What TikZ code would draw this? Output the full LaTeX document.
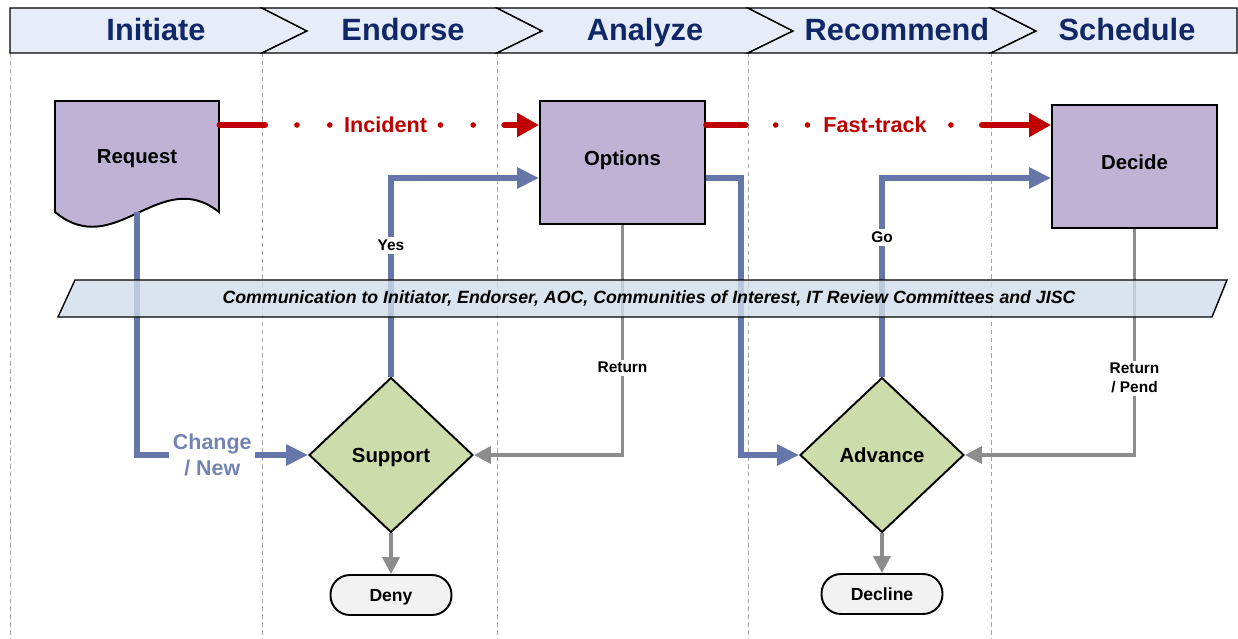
\documentclass[tikz,border=0pt]{standalone}
\usepackage{fontspec}
\setmainfont{Liberation Sans}
\usepackage{tikz}
\usetikzlibrary{arrows.meta, positioning, shapes.geometric}
\usepackage{xcolor}

\definecolor{navy}{RGB}{16,40,104}
\definecolor{lavender}{RGB}{192,178,212}
\definecolor{sage}{RGB}{204,220,170}
\definecolor{paleblue}{RGB}{230,237,248}
\definecolor{bandblue}{RGB}{208,221,234}
\definecolor{flowblue}{RGB}{101,118,170}
\definecolor{flowred}{RGB}{192,0,0}
\definecolor{flowgray}{RGB}{140,140,140}

\begin{document}
\begin{tikzpicture}[x=0.02cm, y=-0.02cm,
        stage/.style={font=\bfseries\fontsize{17.5}{20}\selectfont, text=navy, anchor=base},
        process/.style={draw, line width=1.1pt, fill=lavender, minimum width=3.3cm, minimum height=2.46cm, text height=8.3pt, text depth=5.1pt, font=\bfseries\fontsize{11.6}{14}\selectfont},
        decision/.style={diamond, draw, line width=1.1pt, fill=sage, minimum width=3.28cm, minimum height=3.1cm, inner sep=0pt, text height=8.3pt, text depth=0pt, font=\bfseries\fontsize{11.6}{14}\selectfont},
        terminal/.style={draw, line width=1.1pt, fill=black!5, rounded corners=0.39cm, minimum width=2.42cm, minimum height=0.8cm, text height=7.2pt, text depth=0pt, font=\bfseries\fontsize{10}{12}\selectfont},
        blueflow/.style={flowblue, line width=2.9pt, -{Triangle[length=12.5pt, width=11.5pt]}},
        grayflow/.style={flowgray, line width=2.2pt, -{Triangle[length=9.6pt, width=9.6pt]}},
        redflow/.style={flowred, line width=3.2pt, line cap=round, -{Triangle[length=12.5pt, width=13pt]}},
        tag/.style={fill=white, inner sep=1.5pt, text=black, font=\bfseries\fontsize{8.8}{10.8}\selectfont, align=center},
        bluetag/.style={fill=white, inner sep=2pt, text=flowblue!90, font=\bfseries\fontsize{12.2}{14.5}\selectfont, align=center},
        redtag/.style={text=flowred, inner sep=1pt, font=\bfseries\fontsize{12.3}{14}\selectfont},
        divider/.style={black!35, line width=0.4pt, dash pattern=on 2.5pt off 2pt}
    ]
        \useasboundingbox (0,0) rectangle (1238,639);

        % lanes
        \draw[divider] (10,53) -- (10,639);
        \draw[divider] (262,53) -- (262,639);
        \draw[divider] (497,53) -- (497,639);
        \draw[divider] (748,53) -- (748,639);
        \draw[divider] (991,53) -- (991,639);

        % header chevrons
        \draw[fill=paleblue, line width=0.8pt] (10,8) -- (262,8) -- (307,31) -- (262,53) -- (10,53) -- cycle;
        \draw[fill=paleblue, line width=0.8pt] (262,8) -- (497,8) -- (542,31) -- (497,53) -- (262,53) -- (307,31) -- cycle;
        \draw[fill=paleblue, line width=0.8pt] (497,8) -- (748,8) -- (793,31) -- (748,53) -- (497,53) -- (542,31) -- cycle;
        \draw[fill=paleblue, line width=0.8pt] (748,8) -- (991,8) -- (1036,31) -- (991,53) -- (748,53) -- (793,31) -- cycle;
        \draw[fill=paleblue, line width=0.8pt] (991,8) -- (1237,8) -- (1237,53) -- (991,53) -- (1036,31) -- cycle;

        \node[stage] (initiate) at (156,40) {Initiate};
        \node[stage] (endorse) at (403,40) {Endorse};
        \node[stage] (analyze) at (645,40) {Analyze};
        \node[stage] (recommend) at (897,40) {Recommend};
        \node[stage] (schedule) at (1127,40) {Schedule};

        % shapes
        \draw[fill=lavender, line width=1.1pt] (55,101) -- (219,101) -- (219,212)
            .. controls (160,165) and (115,262) .. (55,212) -- cycle;
        \node[minimum width=3.28cm, minimum height=2.22cm, text height=8.3pt, text depth=0pt, font=\bfseries\fontsize{11.6}{14}\selectfont] (request) at (137,156.5) {Request};
        \node[process] (options) at (622.5,162.5) {Options};
        \node[process] (decide) at (1134.5,166.5) {Decide};
        \node[decision] (support) at (391,455) {Support};
        \node[decision] (advance) at (882,455) {Advance};
        \node[terminal] (deny) at (391,595) {Deny};
        \node[terminal] (decline) at (882,594) {Decline};

        \coordinate (redlane) at (0,125);
        \coordinate (bluelane) at (0,178);

        % connectors
        \draw[redflow, dash pattern=on 26.1pt off 18.1pt on 0pt off 18.7pt on 0pt off 62.9pt on 0pt off 18.7pt on 0pt off 17.6pt on 60pt]
            (request.east |- redlane) -- node[redtag, pos=0.52] (incident) {Incident} (options.west |- redlane);
        \draw[redflow, dash pattern=on 22.7pt off 17pt on 0pt off 18.1pt on 0pt off 81.6pt on 0pt off 17.6pt on 60pt]
            (options.east |- redlane) -- node[redtag, pos=0.49] (fasttrack) {Fast-track} (decide.west |- redlane);

        \draw[blueflow] (request.south) |- node[bluetag, pos=0.72] (changenew) {Change\\/ New} (support.west);
        \draw[blueflow] (support.north) |- node[tag, pos=0.33] (yes) {Yes} (options.west |- bluelane);
        \draw[blueflow] (options.east |- bluelane) -- ++(35,0) |- (advance.west);
        \draw[blueflow] (advance.north) |- node[tag, pos=0.35] (go) {Go} (decide.west |- bluelane);

        \draw[grayflow] (options.south) |- node[tag, pos=0.31] (return) {Return} (support.east);
        \draw[grayflow] (decide.south) |- node[tag, pos=0.33] (returnpend) {Return\\/ Pend} (advance.east);
        \draw[grayflow] (support.south) -- (deny.north);
        \draw[grayflow] (advance.south) -- (decline.north);

        % communication band
        \fill[bandblue, fill opacity=0.8] (75,280) -- (1227,280) -- (1212,317) -- (58,317) -- cycle;
        \draw[line width=0.8pt] (75,280) -- (1227,280) -- (1212,317) -- (58,317) -- cycle;
        \node[font=\bfseries\itshape\fontsize{10.1}{12}\selectfont] (comm) at (649,298)
            {Communication to Initiator, Endorser, AOC, Communities of Interest, IT Review Committees and JISC};

    \end{tikzpicture}
\end{document}
